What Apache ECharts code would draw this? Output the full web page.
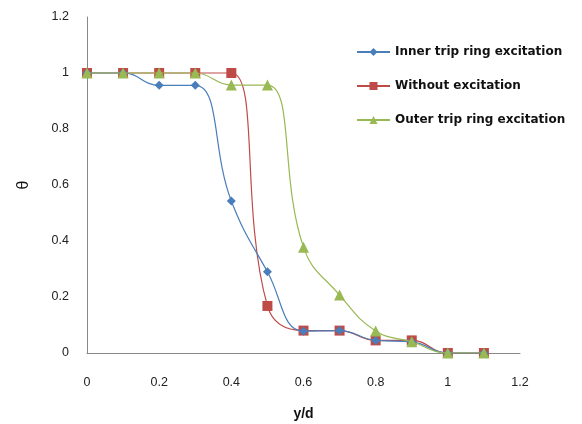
<!DOCTYPE html>
<html><head><meta charset="utf-8">
<script src="https://cdn.jsdelivr.net/npm/echarts@6/dist/echarts.min.js"></script>
<style>html,body{margin:0;padding:0;background:#fff}#c{width:582px;height:424px}</style>
</head><body><div id="c"></div>
<script>
const xVals = [0, 0.1, 0.2, 0.3, 0.4, 0.5, 0.6, 0.7, 0.8, 0.9, 1.0, 1.1];
const inner = [1, 1, 0.956, 0.956, 0.543, 0.29, 0.078, 0.08, 0.045, 0.04, 0, 0];
const without = [1, 1, 1, 1, 1, 0.168, 0.08, 0.08, 0.045, 0.045, 0, 0];
const outer = [1, 1, 1, 1, 0.957, 0.957, 0.378, 0.207, 0.079, 0.04, 0, 0];
const names = ['Inner trip ring excitation', 'Without excitation', 'Outer trip ring excitation'];
const pairs = arr => xVals.map((x, i) => [x, arr[i]]);
const chart = echarts.init(document.getElementById('c'));
const axisCommon = {
  min: 0, max: 1.2, interval: 0.2,
  axisLine: {show: true, lineStyle: {color: '#888', width: 1}},
  axisTick: {show: false},
  splitLine: {show: false},
  axisLabel: {color: '#222', fontSize: 12.5, fontFamily: 'Liberation Sans', formatter: v => String(+v.toFixed(1))}
};
chart.setOption({
  animation: false,
  grid: {left: 87, right: 62, top: 17, bottom: 71, containLabel: false, outerBoundsMode: 'none'},
  legend: {
    orient: 'vertical', left: 351, top: 41, itemGap: 22, itemWidth: 33, itemHeight: 10,
    textStyle: {fontFamily: 'DejaVu Sans', fontWeight: 'bold', fontSize: 12, color: '#111'},
    data: names
  },
  xAxis: Object.assign({}, axisCommon, {type: 'value', name: 'y/d', nameLocation: 'middle', nameGap: 54,
    nameTextStyle: {fontFamily: 'Liberation Sans', fontWeight: 'bold', fontSize: 14, color: '#111'},
    axisLabel: Object.assign({}, axisCommon.axisLabel, {margin: 23})}),
  yAxis: Object.assign({}, axisCommon, {type: 'value', name: 'θ', nameLocation: 'middle', nameGap: 55, nameRotate: 90,
    nameTextStyle: {fontFamily: 'Liberation Sans', fontSize: 16, color: '#111'},
    axisLabel: Object.assign({}, axisCommon.axisLabel, {margin: 18})}),
  series: [
    {name: names[0], type: 'line', smooth: 0.45, data: pairs(inner), symbol: 'diamond', symbolSize: 9,
      itemStyle: {color: '#4a7ebb'}, lineStyle: {color: '#4a7ebb', width: 1.2}, z: 3},
    {name: names[1], type: 'line', smooth: 0.45, data: pairs(without), symbol: 'rect', symbolSize: 10,
      itemStyle: {color: '#be4b48'}, lineStyle: {color: '#be4b48', width: 1.2}, z: 2},
    {name: names[2], type: 'line', smooth: 0.45, data: pairs(outer), symbol: 'triangle', symbolSize: 11,
      itemStyle: {color: '#98b954'}, lineStyle: {color: '#98b954', width: 1.2}, z: 4}
  ]
});
</script></body></html>
